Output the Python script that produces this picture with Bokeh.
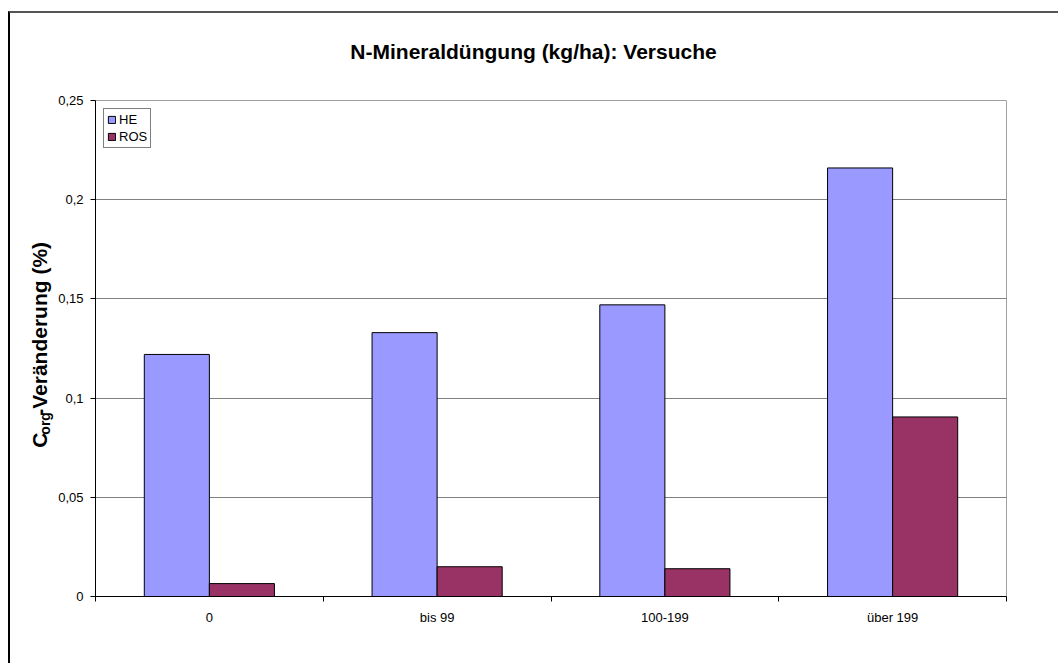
import math
from bokeh.plotting import figure
from bokeh.models import (FactorRange, Range1d, LinearAxis, FixedTicker, Legend,
                          LegendItem, ColumnDataSource, Label)
from bokeh.layouts import column, row
from bokeh.transform import dodge
from bokeh.embed import file_html
from bokeh.resources import INLINE

# ---------------- data ----------------
title_text = "N-Mineraldüngung (kg/ha): Versuche"
categories = ["0", "bis 99", "100-199", "über 199"]
series_names = ["HE", "ROS"]
he_values = [0.122, 0.133, 0.147, 0.216]
ros_values = [0.0065, 0.015, 0.014, 0.0905]
y_ticks = [0, 0.05, 0.1, 0.15, 0.2, 0.25]
y_label_main = "C"
y_label_sub = "org"
y_label_rest = "-Veränderung (%)"

FONT = "Liberation Sans"
HE_COLOR = "#9999FF"
ROS_COLOR = "#993366"

TOTAL_W, TITLE_H, LABEL_W, MAIN_H = 1048, 60, 45, 590


def blank_figure(w, h):
    f = figure(width=w, height=h, x_range=Range1d(0, w), y_range=Range1d(0, h),
               output_backend="svg", toolbar_location=None,
               x_axis_location=None, y_axis_location=None,
               min_border=0, min_border_left=0, min_border_right=0,
               min_border_top=0, min_border_bottom=0)
    f.title = None
    f.outline_line_color = None
    f.xgrid.visible = False
    f.ygrid.visible = False
    f.background_fill_color = "white"
    f.border_fill_color = "white"
    return f


# ---------------- title strip ----------------
pt = blank_figure(TOTAL_W, TITLE_H)
pt.add_layout(Label(x=523, y=22, text=title_text, text_font=FONT, text_font_size="21px",
                    text_font_style="bold", text_align="center",
                    text_baseline="alphabetic", text_color="black"))

# ---------------- y-axis title strip ----------------
pl = blank_figure(LABEL_W, MAIN_H)
ang = math.pi / 2
pl.add_layout(Label(x=29, y=177, text=y_label_main, angle=ang, text_font=FONT,
                    text_font_size="21px", text_font_style="bold", text_color="black",
                    text_align="left", text_baseline="alphabetic"))
pl.add_layout(Label(x=34, y=192.5, text=y_label_sub, angle=ang, text_font=FONT,
                    text_font_size="14px", text_font_style="bold", text_color="black",
                    text_align="left", text_baseline="alphabetic"))
pl.add_layout(Label(x=29, y=215, text=y_label_rest, angle=ang, text_font=FONT,
                    text_font_size="21px", text_font_style="bold", text_color="black",
                    text_align="left", text_baseline="alphabetic"))

# ---------------- main chart ----------------
p = figure(width=TOTAL_W - LABEL_W, height=MAIN_H,
           x_range=FactorRange(factors=categories, range_padding=0),
           y_range=Range1d(y_ticks[0], y_ticks[-1]),
           output_backend="svg", toolbar_location=None,
           x_axis_location=None,
           min_border_left=40, min_border_right=52,
           min_border_top=27, min_border_bottom=67)
p.title = None
p.background_fill_color = "white"
p.border_fill_color = "white"
p.outline_line_color = "#a0a0a0"
p.outline_line_width = 1

# x axis with tick marks at category boundaries (synthetic coordinates of the factor range)
xaxis = LinearAxis(ticker=FixedTicker(ticks=[i + 0.5 for i in range(len(categories))],
                                      minor_ticks=list(range(len(categories) + 1))),
                   major_label_overrides={i + 0.5: c for i, c in enumerate(categories)})
xaxis.major_tick_out = 0
xaxis.major_tick_in = 0
xaxis.minor_tick_out = 5
xaxis.minor_tick_in = 0
xaxis.minor_tick_line_color = "black"
xaxis.axis_line_color = "black"
xaxis.major_label_text_font = FONT
xaxis.major_label_text_font_size = "13px"
xaxis.major_label_text_color = "black"
xaxis.major_label_standoff = 8
p.add_layout(xaxis, "below")

# y axis
yaxis = p.yaxis[0]
yaxis.ticker = FixedTicker(ticks=y_ticks)
yaxis.major_label_overrides = {float(t): (f"{t:g}".replace(".", ",")) for t in y_ticks}
yaxis.major_tick_out = 5
yaxis.major_tick_in = 0
yaxis.minor_tick_line_color = None
yaxis.axis_line_color = "black"
yaxis.major_tick_line_color = "black"
yaxis.major_label_text_font = FONT
yaxis.major_label_text_font_size = "13px"
yaxis.major_label_text_color = "black"
yaxis.major_label_standoff = 7
yaxis.axis_label = None

p.ygrid.ticker = FixedTicker(ticks=y_ticks[1:-1])
p.ygrid.grid_line_color = "#808080"
p.ygrid.grid_line_width = 1
p.xgrid.visible = False

# bars
source = ColumnDataSource(dict(cat=categories, he=he_values, ros=ros_values))
bw = 1 / 3.5
r_he = p.vbar(x=dodge("cat", -bw / 2, range=p.x_range), top="he", width=bw,
              source=source, fill_color=HE_COLOR, line_color="black", line_width=1)
r_ros = p.vbar(x=dodge("cat", bw / 2, range=p.x_range), top="ros", width=bw,
               source=source, fill_color=ROS_COLOR, line_color="black", line_width=1)

legend = Legend(items=[LegendItem(label=series_names[0], renderers=[r_he]),
                       LegendItem(label=series_names[1], renderers=[r_ros])],
                location="top_left", margin=8, padding=3, spacing=2,
                glyph_width=9, glyph_height=9, label_height=12, label_standoff=3,
                label_text_font=FONT, label_text_font_size="13px",
                label_text_color="black",
                border_line_color="black", border_line_width=1,
                background_fill_color="white", background_fill_alpha=1)
p.add_layout(legend)

layout = column(pt, row(pl, p, spacing=0), spacing=0)
layout.styles = {"border-left": "2px solid #000000", "border-top": "2px solid #555555",
                 "margin-top": "11px", "margin-left": "8px"}

open("out.html", "w").write(file_html(layout, INLINE))
